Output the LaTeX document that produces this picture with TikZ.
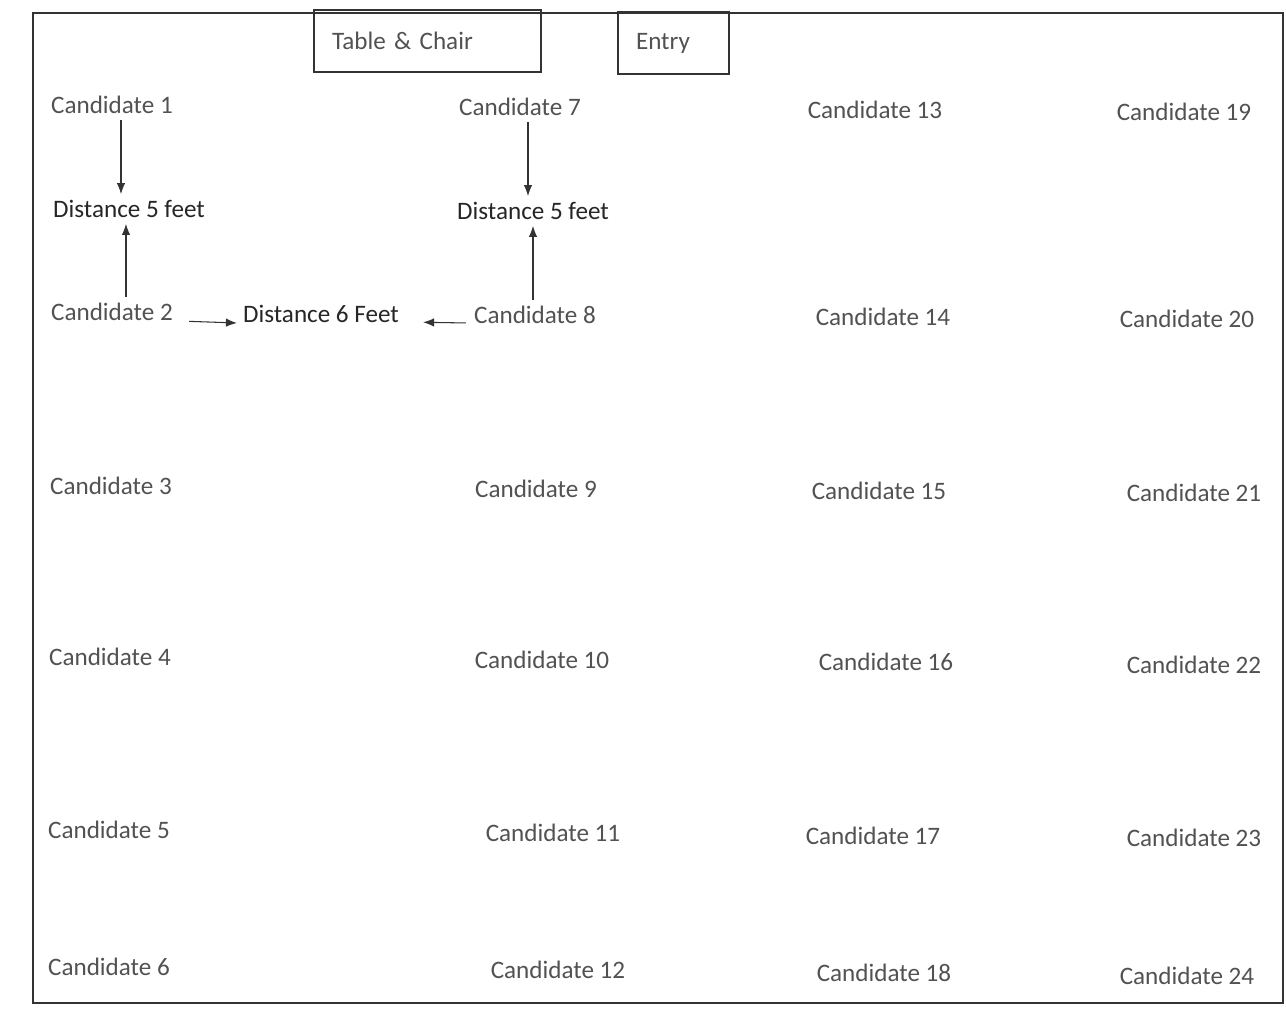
\documentclass[tikz,border=0pt]{standalone}
\usepackage{fontspec}
\setmainfont{Carlito}
\usepackage{tikz}
\usetikzlibrary{arrows.meta}

\tikzset{
  seat/.style={text=black!68, font=\fontsize{14.3}{17}\selectfont},
  gap/.style={text=black!85, font=\fontsize{14.3}{17}\selectfont},
  spot/.style={draw=black!80, line width=0.8pt, text width=3.82cm, align=left, inner xsep=0.36cm,
    minimum height=1.24cm, text=black!68, font=\fontsize{14.3}{17}\selectfont},
  arr/.style={-{Latex[length=2.2mm,width=1.7mm]}, black!80, line width=0.6pt}
}

\begin{document}
\begin{tikzpicture}[x=0.02cm, y=-0.02cm]
    \useasboundingbox (0,0) rectangle (1286,1017);
    \fill[white] (0,0) rectangle (1286,1017);
    % hall
    \draw[black!80, line width=0.8pt] (33,13) rectangle (1283,1003);
    \node[spot] (table) at (427.5,41) {Table \& Chair};
    \node[spot, text width=1.5cm] (entry) at (673.5,43) {Entry};
    % first column
    \node[seat] (c1) at (112,105) {Candidate 1};
    \node[gap] (d5a) at (129,209) {Distance 5 feet};
    \node[seat] (c2) at (112,312) {Candidate 2};
    \node[gap] (d6) at (321,314) {Distance 6 Feet};
    \node[seat] (c3) at (111,486) {Candidate 3};
    \node[seat] (c4) at (110,657) {Candidate 4};
    \node[seat] (c5) at (109,830) {Candidate 5};
    \node[seat] (c6) at (109,967) {Candidate 6};
    % second column
    \node[seat] (c7) at (520,107) {Candidate 7};
    \node[gap] (d5b) at (533,211) {Distance 5 feet};
    \node[seat] (c8) at (535,315) {Candidate 8};
    \node[seat] (c9) at (536,489) {Candidate 9};
    \node[seat] (c10) at (542,660) {Candidate 10};
    \node[seat] (c11) at (553,833) {Candidate 11};
    \node[seat] (c12) at (558,970) {Candidate 12};
    % third column
    \node[seat] (c13) at (875,110) {Candidate 13};
    \node[seat] (c14) at (883,317) {Candidate 14};
    \node[seat] (c15) at (879,491) {Candidate 15};
    \node[seat] (c16) at (886,662) {Candidate 16};
    \node[seat] (c17) at (873,836) {Candidate 17};
    \node[seat] (c18) at (884,973) {Candidate 18};
    % fourth column
    \node[seat] (c19) at (1184,112) {Candidate 19};
    \node[seat] (c20) at (1187,319) {Candidate 20};
    \node[seat] (c21) at (1194,493) {Candidate 21};
    \node[seat] (c22) at (1194,665) {Candidate 22};
    \node[seat] (c23) at (1194,838) {Candidate 23};
    \node[seat] (c24) at (1187,976) {Candidate 24};
    % distances
    \draw[arr] ([xshift=0.18cm]c1.south) -- ([xshift=0.18cm]c1.south |- d5a.north);
    \draw[arr] ([xshift=0.28cm]c2.north) -- ([xshift=0.28cm]c2.north |- d5a.south);
    \draw[arr] ([xshift=0.16cm]c7.south) -- ([xshift=0.16cm]c7.south |- d5b.north);
    \draw[arr] ([xshift=-0.04cm]c8.north) -- ([xshift=-0.04cm]c8.north |- d5b.south);
    \draw[arr, shorten <=0.2cm] ([yshift=-0.18cm]c2.east) -- ([yshift=-0.18cm]d6.west);
    \draw[arr, shorten <=0.04cm, shorten >=0.36cm] ([yshift=-0.16cm]c8.west) -- ([yshift=-0.16cm]d6.east);
  \end{tikzpicture}
\end{document}
